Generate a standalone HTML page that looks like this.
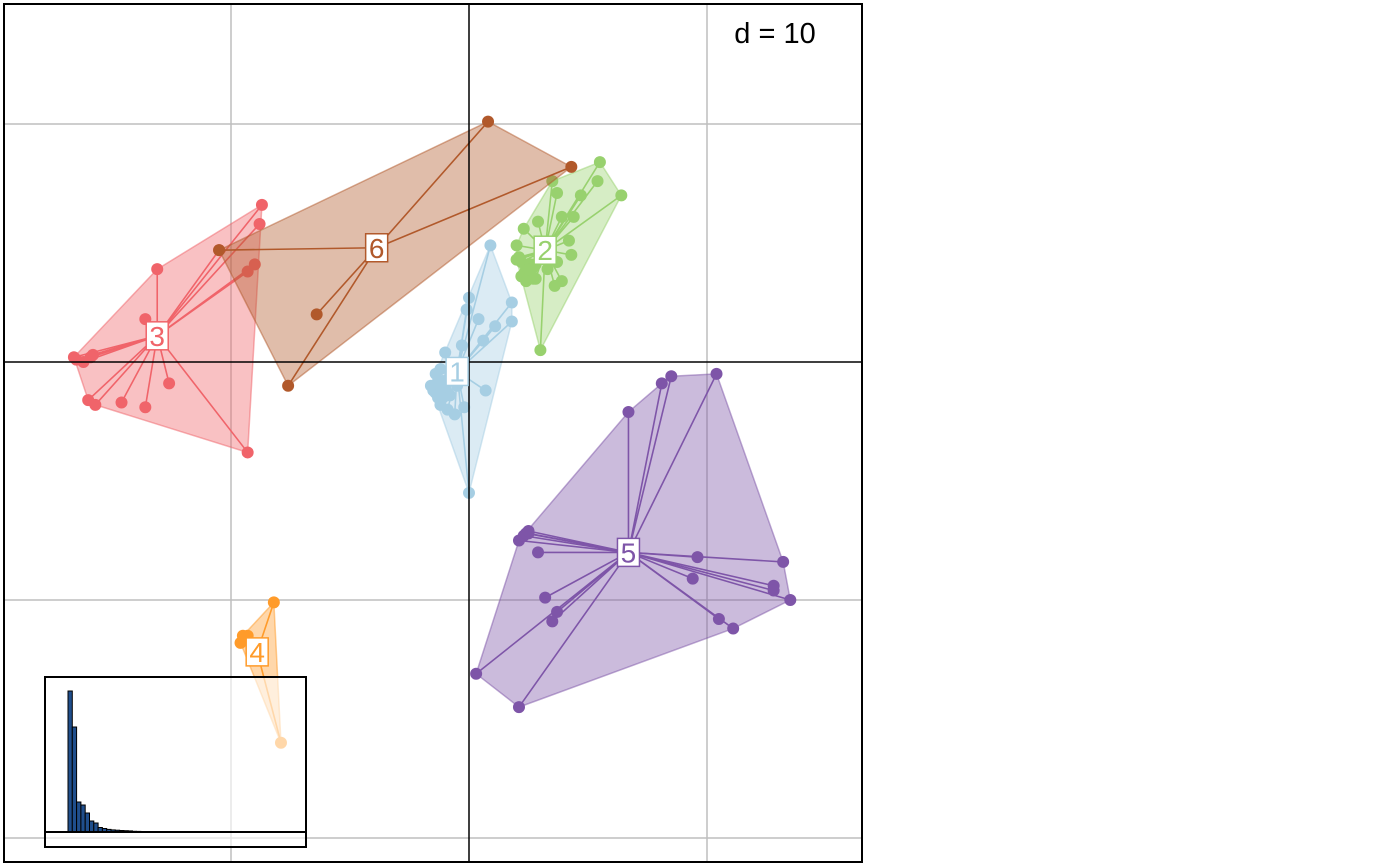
<!DOCTYPE html>
<html><head><meta charset="utf-8"><style>
html,body{margin:0;padding:0;background:#fff;}
svg{display:block;font-family:"Liberation Sans",sans-serif;}
</style></head><body>
<svg id="chart" width="1400" height="866" viewBox="0 0 1400 866">
<rect x="0" y="0" width="1400" height="866" fill="#fff"/>
<g id="grid"></g>
<g id="groups"></g>
<g id="axes"></g>
<g id="labels"></g>
<g id="inset"></g>
<rect x="4" y="4" width="858" height="858" fill="none" stroke="#000" stroke-width="2"/>
<text x="775" y="43" font-size="29" text-anchor="middle" fill="#000">d = 10</text>
</svg>
<script>
const groupNames = ["1","2","3","4","5","6"];
const groupColors = ["#A6CEE3","#98D16E","#F0646A","#FF9B2A","#7E55A8","#B1592B"];
const g1x = [0.9,1.8,1.8,0,-0.1,0.4,1.1,0.6,-1.0,-1.2,-1.3,-1.0,0.7,-0.6,-0.2,0,-0.3,-0.8,-0.5,-1.4,-1.0,-1.3,-0.9,-1.1,-1.5,-1.2,-0.8,-1.3,-1.2,-1.0,-1.4,-1.1,-1.6];
const g1y = [4.9,2.5,1.7,2.7,2.2,1.8,1.5,0.9,0.4,-0.3,-0.8,-1.3,-1.2,-2.2,-1.9,-5.5,0.7,-0.6,-1.0,-0.5,-1.0,-1.5,-2.0,-0.8,-1.2,-1.6,-1.4,-0.9,-1.8,-1.1,-1.3,-1.5,-1.0];
const g2x = [5.5,6.4,3.5,3.7,5.4,4.7,4.4,3.9,2.9,2.3,2.0,2.1,2.4,2.8,3.3,3.7,4.2,4.3,3.9,3.6,3.0,2.0,2.2,2.4,2.6,2.8,2.1,2.3,2.5,2.7,2.4,2.2,2.6,2.5,2.7];
const g2y = [8.4,7.0,7.6,7.1,7.6,7.0,6.1,6.1,5.9,5.6,4.9,4.3,3.9,4.1,3.9,4.2,5.1,4.5,3.4,3.2,0.5,4.3,3.6,3.9,4.1,3.5,4.4,3.7,3.8,4.0,3.4,4.2,3.7,3.9,3.5];
const g3x = [-8.7,-8.8,-9.0,-9.3,-10.5,-13.1,-13.6,-16.6,-15.8,-16.2,-16.0,-15.7,-14.6,-13.6,-9.3,-16.5,-15.9,-12.6];
const g3y = [6.6,5.8,4.1,3.8,4.7,3.9,1.8,0.2,0.3,0.0,-1.6,-1.8,-1.7,-1.9,-3.8,0.1,0.2,-0.9];
const g4x = [-8.2,-9.3,-9.6,-7.9,-9.5];
const g4y = [-10.1,-11.5,-11.8,-16.0,-11.5];
const g5x = [8.1,10.4,6.7,2.5,2.1,2.9,9.6,13.2,9.4,12.8,12.8,13.5,3.2,3.7,3.5,10.5,11.1,0.3,2.1,2.3,2.4,2.5,8.5];
const g5y = [-0.9,-0.5,-2.1,-7.2,-7.5,-8.0,-8.2,-8.4,-9.1,-9.4,-9.6,-10.0,-9.9,-10.5,-10.9,-10.8,-11.2,-13.1,-14.5,-7.3,-7.2,-7.1,-0.6];
const g6x = [0.8,4.3,-10.5,-6.4,-7.6];
const g6y = [10.1,8.2,4.7,2.0,-1.0];
const eigenvalues = [141,105,30,27,19,11,9,4.5,3.5,2.6,2.1,1.8,1.5,1.3,1.1,1.0,0.9,0.8,0.7,0.6,0.55,0.5,0.45,0.4,0.36,0.33,0.3,0.27,0.25,0.23,0.21,0.19,0.17,0.16,0.15,0.14,0.13,0.12,0.11,0.1,0.1,0.09,0.09,0.08,0.08,0.07,0.07,0.06,0.06,0.05,0.05,0.05,0.04,0.04];
const gridTicks = [-20,-10,0,10,20];

const NS="http://www.w3.org/2000/svg";
const OX=469, OY=362, S=23.8;
const sx=v=>OX+v*S, sy=v=>OY-v*S;
function mk(tag,attrs,parent){const e=document.createElementNS(NS,tag);for(const k in attrs)e.setAttribute(k,attrs[k]);parent.appendChild(e);return e;}

const grid=document.getElementById('grid');
gridTicks.forEach(t=>{
  if(t===0)return;
  const X=sx(t), Y=sy(t);
  if(X>4&&X<862){const l=mk('line',{x1:X,y1:4,x2:X,y2:862,stroke:'#bebebe','stroke-width':1.5},grid);
    
    }
  if(Y>4&&Y<862){const l=mk('line',{x1:4,y1:Y,x2:862,y2:Y,stroke:'#bebebe','stroke-width':1.5},grid);
    
    }
});
const axes=document.getElementById('axes');
const ax1=mk('line',{x1:sx(0),y1:4,x2:sx(0),y2:862,stroke:'#000','stroke-width':1.5},axes);


const ax2=mk('line',{x1:4,y1:sy(0),x2:862,y2:sy(0),stroke:'#000','stroke-width':1.5},axes);



function hull(pts){
  const p=pts.slice().sort((a,b)=>a[0]-b[0]||a[1]-b[1]);
  const cr=(o,a,b)=>(a[0]-o[0])*(b[1]-o[1])-(a[1]-o[1])*(b[0]-o[0]);
  const lo=[],up=[];
  for(const q of p){while(lo.length>=2&&cr(lo[lo.length-2],lo[lo.length-1],q)<=0)lo.pop();lo.push(q);}
  for(let i=p.length-1;i>=0;i--){const q=p[i];while(up.length>=2&&cr(up[up.length-2],up[up.length-1],q)<=0)up.pop();up.push(q);}
  up.pop();lo.pop();return lo.concat(up);
}
const GX=[g1x,g2x,g3x,g4x,g5x,g6x], GY=[g1y,g2y,g3y,g4y,g5y,g6y];
const groupsG=document.getElementById('groups'), labelsG=document.getElementById('labels');
GX.forEach((xs,gi)=>{
  const ys=GY[gi], col=groupColors[gi];
  const gg=mk('g',{},groupsG);
  
  
  const pts=xs.map((x,i)=>[sx(x),sy(ys[i])]);
  const cx=pts.reduce((a,p)=>a+p[0],0)/pts.length, cy=pts.reduce((a,p)=>a+p[1],0)/pts.length;
  const h=hull(pts);
  const poly=mk('polygon',{points:h.map(p=>p.join(',')).join(' '),fill:col,'fill-opacity':0.4,stroke:col,'stroke-opacity':0.5,'stroke-width':1.5},gg);
  
  
  pts.forEach(p=>{const l=mk('line',{x1:cx,y1:cy,x2:p[0],y2:p[1],stroke:col,'stroke-width':1.6},gg);
    
    });
  pts.forEach(p=>{const c=mk('circle',{cx:p[0],cy:p[1],r:6,fill:col},gg);
    
    });
  const lb=mk('g',{},labelsG);
  
  
  mk('rect',{x:cx-11,y:cy-14,width:22,height:28,fill:'#fff',stroke:col,'stroke-width':1.5},lb);
  const t=mk('text',{x:cx,y:cy+10,'font-size':28,'text-anchor':'middle',fill:col},lb);
  t.textContent=groupNames[gi];
});

const inset=document.getElementById('inset');
const ir=mk('rect',{x:45,y:677,width:261,height:170,fill:'#fff','fill-opacity':0.6,stroke:'#000','stroke-width':2},inset);


const base=832, bw=4.3, bx0=68;
eigenvalues.forEach((v,i)=>{
  const r=mk('rect',{x:bx0+i*bw,y:base-v,width:bw,height:v,fill:'#1F4E8C',stroke:'#000','stroke-width':v>1?1:0.4},inset);
  
  
});
const bl=mk('line',{x1:45,y1:base,x2:306,y2:base,stroke:'#000','stroke-width':2},inset);


</script>
</body></html>
